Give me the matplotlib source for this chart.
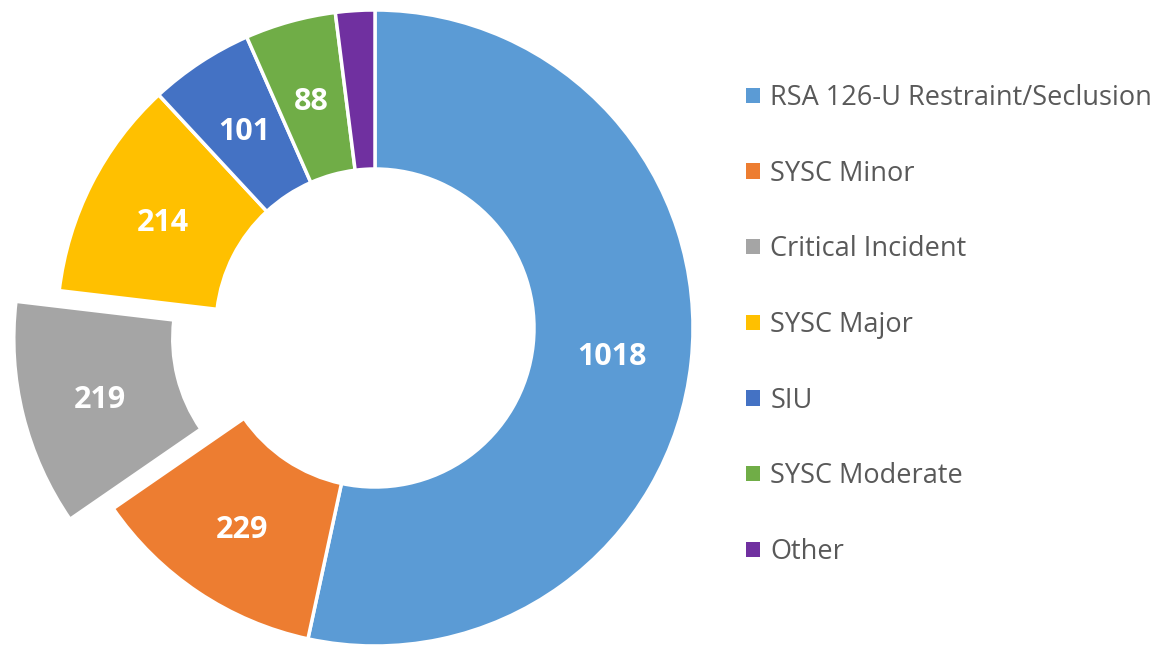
# Donut chart - incident categories
import matplotlib.pyplot as plt

categories = ["RSA 126-U Restraint/Seclusion", "SYSC Minor", "Critical Incident",
              "SYSC Major", "SIU", "SYSC Moderate", "Other"]
counts = [1018, 229, 219, 214, 101, 88, 38]
shown = [True, True, True, True, True, True, False]  # "Other" has no label
colors = ["#5B9BD5", "#ED7D31", "#A5A5A5", "#FFC000", "#4472C4", "#70AD47", "#7030A0"]
explode = [0, 0, 0.14, 0, 0, 0, 0]

W, H = 1159, 647
cx, cy, r = 375, 328, 318  # pie centre and radius in pixels

fig = plt.figure(figsize=(W / 100, H / 100), dpi=100)
ax = fig.add_axes([0, 0, 1, 1])
ax.axis("off")

labels_iter = iter(zip(counts, shown))

def fmt(pct):
    v, s = next(labels_iter)
    return str(v) if s else ""

wedges, _, autotexts = ax.pie(
    counts, colors=colors, explode=explode, startangle=90, counterclock=False,
    radius=1.0, autopct=fmt, pctdistance=0.75,
    wedgeprops=dict(width=0.5, edgecolor="white", linewidth=2.5),
    textprops=dict(color="white", fontsize=22, fontweight="bold", family="Open Sans"),
)
for t in autotexts:
    t.set_va("center_baseline")
ax.set_xlim(-cx / r, (W - cx) / r)
ax.set_ylim(-(H - cy) / r, cy / r)

leg = ax.legend(wedges, categories, loc="upper left", bbox_to_anchor=(746 / W, 1 - 84 / H),
                bbox_transform=fig.transFigure, frameon=False,
                prop=dict(family="Open Sans", size=19.5), labelcolor="#595959",
                handlelength=0.5, handleheight=0.5, handletextpad=0.4,
                labelspacing=1.76, borderpad=0, borderaxespad=0)
for h in leg.legend_handles:
    h.set_linewidth(0)

fig.savefig("out.png", dpi=100)
